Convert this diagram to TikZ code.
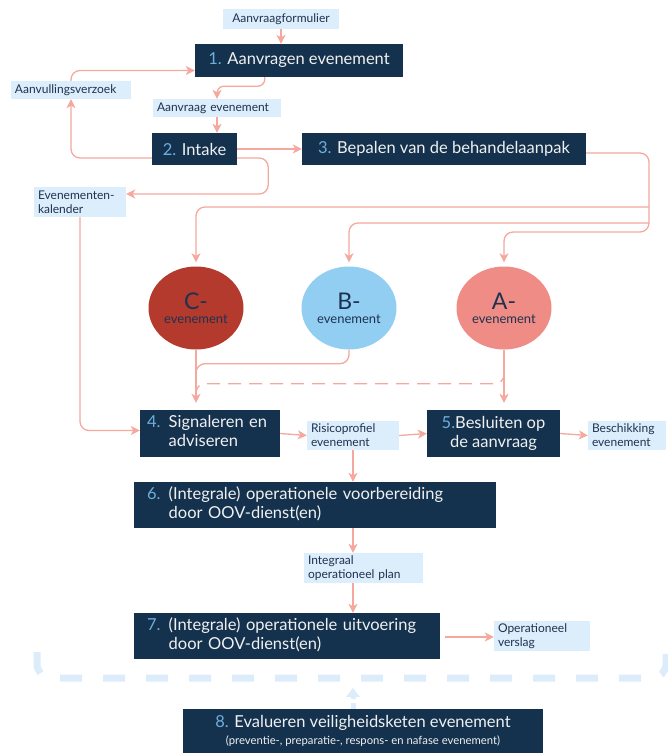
\documentclass[tikz,border=0pt]{standalone}
\usepackage{fontspec}
\setmainfont{Lato}
\usetikzlibrary{shapes.geometric,arrows.meta,calc}
\definecolor{navybg}{RGB}{20,50,78}
\definecolor{numc}{RGB}{110,175,220}
\definecolor{salmon}{RGB}{244,168,158}
\definecolor{labbg}{RGB}{220,238,251}
\definecolor{navytxt}{RGB}{30,50,80}
\definecolor{boxtxt}{RGB}{240,240,240}
\definecolor{cc}{RGB}{181,58,46}
\definecolor{bc}{RGB}{146,206,242}
\definecolor{ac}{RGB}{238,140,133}
\definecolor{dashc}{RGB}{220,236,250}
\newcommand{\nm}[1]{\textcolor{numc}{#1}}
\newcommand{\bfnt}{\fontsize{16.5}{19}\selectfont}
\newcommand{\lfnt}{\fontsize{12}{14}\selectfont}
\newcommand{\evtxt}[1]{{\fontsize{23}{23}\selectfont #1}\\[2pt]{\fontsize{13}{13}\selectfont evenement}}
\begin{document}
\begin{tikzpicture}[x=1pt,y=-1pt,
  nbox/.style={fill=navybg,text=boxtxt,font=\bfnt,inner sep=0pt,align=center},
  lbox/.style={fill=navybg,text=boxtxt,font=\bfnt,inner ysep=0pt,align=left},
  lab/.style={fill=labbg,text=navytxt,font=\lfnt,inner ysep=0pt,inner xsep=4pt,align=left},
  evt/.style={ellipse,minimum width=95pt,minimum height=83pt,inner sep=0pt,text=navytxt,align=center},
  arr/.style={draw=salmon,line width=1.3pt,-{Stealth[length=9pt,width=9pt,inset=2.5pt]}},
  ln/.style={draw=salmon,line width=1.3pt},
]
\useasboundingbox (0,0) rectangle (668,753);

% labels
\node[lab,minimum height=20pt,minimum width=116pt,align=center] (af) at (281,19) {Aanvraagformulier};
\node[lab,minimum height=18pt,text width=112pt] (av) at (71,90) {Aanvullingsverzoek};
\node[lab,minimum height=18pt,text width=120pt] (ae) at (217,108) {Aanvraag evenement};
\node[lab,minimum height=30pt,text width=84pt] (ek) at (80,202) {Evenementen-\\kalender};
\node[lab,minimum height=29pt,text width=84pt] (rp) at (353,435.5) {Risicoprofiel\\evenement};
\node[lab,minimum height=29pt,text width=70pt] (be) at (627,435.5) {Beschikking\\evenement};
\node[lab,minimum height=30pt,text width=111pt] (ip) at (363.5,568) {Integraal\\operationeel plan};
\node[lab,minimum height=30pt,text width=88pt] (ov) at (542,636) {Operationeel\\verslag};

% process boxes
\node[nbox,minimum width=208pt,minimum height=33pt] (n1) at (299,60.5) {\nm{1.} Aanvragen evenement};
\node[nbox,minimum width=85pt,minimum height=32pt] (n2) at (194.5,149) {\nm{2.} Intake};
\node[nbox,minimum width=284pt,minimum height=32pt] (n3) at (444,149) {\nm{3.} Bepalen van de behandelaanpak};
\node[lbox,minimum height=47pt,inner xsep=7pt,text width=126pt] (n4) at (210,433.5)
  {\begin{tabular}{@{}l@{ }l@{}}\nm{4.}&Signaleren en\\&adviseren\end{tabular}};
\node[nbox,minimum width=133pt,minimum height=47pt] (n5) at (493.5,433.5) {\nm{5.}Besluiten op\\de aanvraag};
\node[lbox,minimum height=46pt,inner xsep=13pt,text width=336pt] (n6) at (315,505)
  {\begin{tabular}{@{}l@{ }l@{}}\nm{6.}&(Integrale) operationele voorbereiding\\&door OOV-dienst(en)\end{tabular}};
\node[lbox,minimum height=46pt,inner xsep=13pt,text width=280pt] (n7) at (287,636)
  {\begin{tabular}{@{}l@{ }l@{}}\nm{7.}&(Integrale) operationele uitvoering\\&door OOV-dienst(en)\end{tabular}};
\node[nbox,minimum width=360pt,minimum height=44pt] (n8) at (363,731)
  {\nm{8.} Evalueren veiligheidsketen evenement\\[-2pt]{\fontsize{11.3}{12}\selectfont (preventie-, preparatie-, respons- en nafase evenement)}};

% event ellipses
\node[evt,fill=cc] (C) at (196,308) {\evtxt{C-}};
\node[evt,fill=bc] (B) at (349,308) {\evtxt{B-}};
\node[evt,fill=ac] (A) at (504,308) {\evtxt{A-}};

% bus coordinates
\coordinate (busA) at (649,232);
\coordinate (busC) at (649,207);
\coordinate (busB) at (649,223);

% connectors
\draw[arr] (af.south) -- (af.south |- n1.north);
\draw[arr,rounded corners=7pt] ($(n1.south west)+(70,0)$) -- ++(0,9) -| (ae.north);
\draw[arr] (ae.south) -- (ae.south |- n2.north);
\draw[arr] (n2.east) -- (n3.west);
\draw[arr,rounded corners=9pt] ($(n2.west)+(0,9)$) -| (av.south);
\draw[arr,rounded corners=9pt] (av.north) |- ($(n1.west)+(0,10)$);
\draw[arr,rounded corners=9pt] ($(n2.east)+(0,9)$) -- ($(n2.east)+(31,9)$) |- ($(ek.east)+(0,-8)$);
\draw[arr,rounded corners=9pt] (ek.south) |- ($(n4.west)+(0,-3)$);

\draw[arr,rounded corners=9pt,shorten >=4pt] ($(n3.east)+(0,4)$) -| (busA) -| (A.north);
\draw[arr,rounded corners=9pt,shorten >=4pt] (busC) -| (C.north);
\draw[arr,rounded corners=9pt,shorten >=4pt] (busB) -| (B.north);

\draw[arr,shorten >=7pt] (C.south) -- (C.south |- n4.north);
\draw[ln,rounded corners=9pt] (B.south) |- ($(C.south)+(0,14)$) -- ($(C.south)+(0,30)$);
\draw[ln,dash pattern=on 13pt off 8pt,rounded corners=9pt] ($(A.south)+(0,20)$) |- ($(C.south)+(0,34)$) -- ($(C.south)+(0,46)$);
\draw[arr,shorten >=7pt] (A.south) -- (A.south |- n5.north);

\draw[arr] (n4.east) -- (rp.west);
\draw[arr] (rp.east) -- (n5.west);
\draw[arr] (n5.east) -- (be.west);
\draw[arr] (rp.south) -- (rp.south |- n6.north);
\draw[arr] (n6.south -| rp.south) -- (ip.north -| rp.south);
\draw[arr] (ip.south -| rp.south) -- (n7.north -| rp.south);
\draw[arr] ($(n7.east)+(5,1)$) -- ($(ov.west)+(0,1)$);

% evaluation bracket
\draw[draw=dashc,line width=7pt,dash pattern=on 22pt off 21pt,rounded corners=14pt] (37,652) -- (37,678) -- (666,678) -- (666,652);
\draw[draw=dashc,fill=dashc,line width=5pt,dash pattern=on 6pt off 4pt,-{Triangle[length=9pt,width=13pt]}] (n8.north -| rp.south) -- ++(0,-21);
\end{tikzpicture}
\end{document}
